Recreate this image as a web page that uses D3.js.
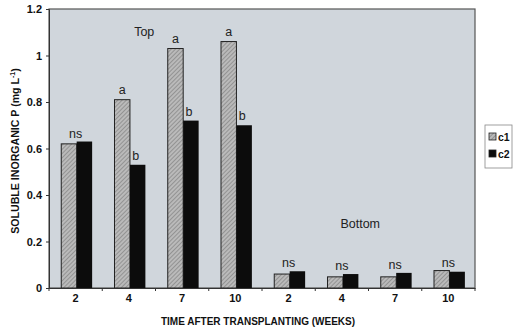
<!DOCTYPE html>
<html>
<head>
<meta charset="utf-8">
<script src="https://cdn.jsdelivr.net/npm/d3@7"></script>
<style>
  body { margin: 0; background: #fff; }
  text { font-family: Arial, "Liberation Sans", sans-serif; }
</style>
</head>
<body>
<div id="chart"></div>
<script>
// data
var weeks = ["2", "4", "7", "10", "2", "4", "7", "10"];
var c1 = [0.62, 0.81, 1.03, 1.06, 0.06, 0.048, 0.048, 0.075];
var c2 = [0.63, 0.53, 0.72, 0.70, 0.072, 0.06, 0.065, 0.07];
var sigC1 = ["", "a", "a", "a", "", "", "", ""];
var sigC2 = ["", "b", "b", "b", "", "", "", ""];
var sigGroup = ["ns", "", "", "", "ns", "ns", "ns", "ns"];
var yTicks = [0, 0.2, 0.4, 0.6, 0.8, 1, 1.2];
var seriesNames = ["c1", "c2"];

var margin = { top: 9, right: 39, bottom: 40, left: 49 },
    width = 514 - margin.left - margin.right,
    height = 328 - margin.top - margin.bottom;

var svgRoot = d3.select("#chart")
    .append("svg")
    .attr("width", 514)
    .attr("height", 328);

// hatch pattern for c1
var defs = svgRoot.append("defs");
var pat = defs.append("pattern")
    .attr("id", "hatch")
    .attr("patternUnits", "userSpaceOnUse")
    .attr("width", 3)
    .attr("height", 3)
    .attr("patternTransform", "rotate(45)");
pat.append("rect").attr("width", 3).attr("height", 3).attr("fill", "#bababa");
pat.append("line").attr("x1", 0).attr("y1", 0).attr("x2", 0).attr("y2", 3)
    .attr("stroke", "#727272").attr("stroke-width", 1.1);

var svg = svgRoot.append("g")
    .attr("transform", "translate(" + margin.left + "," + margin.top + ")");

var idx = d3.range(weeks.length);

var x = d3.scaleBand()
    .domain(idx)
    .range([0, width])
    .paddingInner(0)
    .paddingOuter(0);

var xSub = d3.scaleBand()
    .domain(seriesNames)
    .range([x.bandwidth() * 0.23, x.bandwidth() * 0.81]);

var y = d3.scaleLinear()
    .domain([0, 1.2])
    .range([height, 0]);

// plot area background
svg.append("rect")
    .attr("width", width)
    .attr("height", height)
    .attr("fill", "#d0d6dc")
    .attr("stroke", "#555")
    .attr("stroke-width", 1.2);

// bars
var groups = svg.selectAll(".grp")
    .data(idx)
    .enter()
    .append("g")
    .attr("transform", function (i) { return "translate(" + x(i) + ",0)"; });

groups.append("rect")
    .attr("x", xSub("c1"))
    .attr("width", xSub.bandwidth())
    .attr("y", function (i) { return y(c1[i]); })
    .attr("height", function (i) { return height - y(c1[i]); })
    .attr("fill", "url(#hatch)")
    .attr("stroke", "#222")
    .attr("stroke-width", 1);

groups.append("rect")
    .attr("x", xSub("c2"))
    .attr("width", xSub.bandwidth())
    .attr("y", function (i) { return y(c2[i]); })
    .attr("height", function (i) { return height - y(c2[i]); })
    .attr("fill", "#0c0c0c");

// significance letters
groups.append("text")
    .attr("x", xSub("c1") + xSub.bandwidth() / 2)
    .attr("y", function (i) { return y(c1[i]) - 6; })
    .attr("text-anchor", "middle")
    .style("font-size", "12.5px")
    .attr("fill", "#222")
    .text(function (i) { return sigC1[i]; });

groups.append("text")
    .attr("x", xSub("c2") + xSub.bandwidth() / 2 - 2)
    .attr("y", function (i) { return y(c2[i]) - 5; })
    .attr("text-anchor", "middle")
    .style("font-size", "12.5px")
    .attr("fill", "#222")
    .text(function (i) { return sigC2[i]; });

groups.append("text")
    .attr("x", x.bandwidth() / 2)
    .attr("y", function (i) { return y(Math.max(c1[i], c2[i])) - 4; })
    .attr("text-anchor", "middle")
    .style("font-size", "12.5px")
    .attr("fill", "#222")
    .text(function (i) { return sigGroup[i]; });

// panel labels
svg.append("text")
    .attr("x", x(1) + 42)
    .attr("y", y(1.085))
    .attr("text-anchor", "middle")
    .style("font-size", "12.5px")
    .attr("fill", "#222")
    .text("Top");

svg.append("text")
    .attr("x", x(5) + 45)
    .attr("y", y(0.26))
    .attr("text-anchor", "middle")
    .style("font-size", "12.5px")
    .attr("fill", "#222")
    .text("Bottom");

// y axis
var yAxis = svg.append("g")
    .call(d3.axisLeft(y).tickValues(yTicks).tickSize(3).tickFormat(d3.format("")));
yAxis.select(".domain").attr("stroke", "#333");
yAxis.selectAll("line").attr("stroke", "#333");
yAxis.selectAll("text")
    .style("font-size", "11px")
    .style("font-weight", "bold")
    .attr("fill", "#111")
    .attr("x", -7);

// x axis: ticks at group boundaries
var xAxis = svg.append("g")
    .attr("transform", "translate(0," + height + ")")
    .call(d3.axisBottom(x).tickSize(0).tickFormat(function (i) { return weeks[i]; }));
xAxis.select(".domain").attr("stroke", "#333");
xAxis.selectAll("text")
    .style("font-size", "11px")
    .style("font-weight", "bold")
    .attr("fill", "#111")
    .attr("y", 0)
    .attr("dy", 14);

svg.append("g")
    .selectAll("line")
    .data(d3.range(weeks.length + 1))
    .enter()
    .append("line")
    .attr("x1", function (i) { return i * x.step(); })
    .attr("x2", function (i) { return i * x.step(); })
    .attr("y1", height)
    .attr("y2", height + 3)
    .attr("stroke", "#333");

// axis titles
svg.append("text")
    .attr("x", width / 2 - 4)
    .attr("y", height + 37)
    .attr("text-anchor", "middle")
    .style("font-size", "10px")
    .style("font-weight", "bold")
    .attr("fill", "#111")
    .text("TIME AFTER TRANSPLANTING (WEEKS)");

var yTitle = svgRoot.append("text")
    .attr("transform", "translate(19," + (margin.top + 142) + ")rotate(-90)")
    .attr("text-anchor", "middle")
    .style("font-size", "10.6px")
    .style("font-weight", "bold")
    .attr("fill", "#111");
yTitle.append("tspan").text("SOLUBLE INORGANIC P (mg L");
yTitle.append("tspan").attr("dy", -4).style("font-size", "7px").text("-1");
yTitle.append("tspan").attr("dy", 4).text(")");

// legend
var lg = svgRoot.append("g").attr("transform", "translate(485,125)");
lg.append("rect")
    .attr("width", 27)
    .attr("height", 43)
    .attr("fill", "#fff")
    .attr("stroke", "#888")
    .attr("stroke-width", 0.8);
var items = lg.selectAll(".item")
    .data(seriesNames)
    .enter()
    .append("g")
    .attr("transform", function (d, i) { return "translate(4," + (12 + i * 17) + ")"; });
items.append("rect")
    .attr("y", -4)
    .attr("width", 7)
    .attr("height", 7)
    .attr("fill", function (d) { return d === "c1" ? "url(#hatch)" : "#0c0c0c"; })
    .attr("stroke", "#222")
    .attr("stroke-width", 0.8);
items.append("text")
    .attr("x", 9)
    .attr("y", 3.5)
    .style("font-size", "10.5px")
    .style("font-weight", "bold")
    .attr("fill", "#111")
    .text(function (d) { return d; });
</script>
</body>
</html>
